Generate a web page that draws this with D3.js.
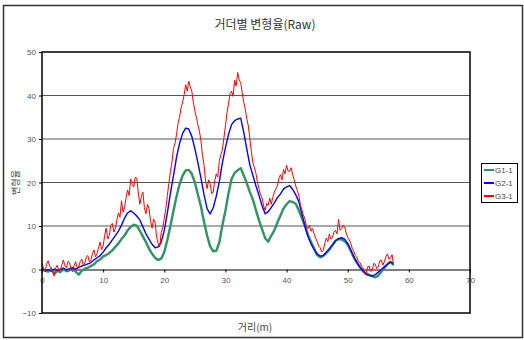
<!DOCTYPE html>
<html>
<head>
<meta charset="utf-8">
<script src="https://cdn.jsdelivr.net/npm/d3@7/dist/d3.min.js"></script>
<style>
  html, body { margin: 0; padding: 0; background: #fff; }
  svg { display: block; }
  text { font-family: "Liberation Sans", Arial, "Noto Sans CJK KR", sans-serif; }
  .kr { font-family: "Noto Sans CJK KR", "Liberation Sans", sans-serif; }
</style>
</head>
<body>
<svg id="chart" width="524" height="340"></svg>
<script>
const seriesNames = ["G1-1", "G2-1", "G3-1"];
const seriesColors = ["#2f9462", "#0000ff", "#ff0000"];
// Sample spacing (m) of each series, all starting at 0 m
const seriesSteps = [0.5, 0.5, 0.25];

// G1-1 deformation rate, one sample every 0.5 m
const g1 = [
  0.3,-0.2,-0.5,0.2,-1.0,-0.3,-0.6,0.1,-0.4,-0.2,0.3,-0.5,-1.2,-0.3,0.2,0.4,
  0.8,1.2,1.9,2.3,3.0,3.3,3.8,4.4,5.2,6.0,7.0,7.8,9.0,9.8,10.3,10.1,
  8.9,7.6,6.3,4.8,3.6,2.7,2.2,2.5,4.0,6.8,10.0,13.5,16.8,19.6,21.6,22.8,
  22.9,22.0,20.0,17.2,14.5,11.0,7.8,5.3,4.2,4.3,6.2,10.2,13.5,17.5,20.8,22.2,
  22.8,23.3,21.6,19.8,17.8,16.0,13.6,11.3,9.2,7.2,6.4,7.8,9.0,10.8,12.4,14.0,
  15.0,15.7,15.5,15.1,13.6,11.8,10.0,8.0,6.3,4.9,3.3,2.8,3.1,3.8,4.5,5.6,
  6.6,7.0,6.9,6.5,5.7,4.3,2.8,1.6,0.6,-0.4,-0.9,-1.3,-1.5,-1.8,-1.4,-0.5,
  0.4,1.2,1.8,1.0
];
// G2-1 deformation rate, one sample every 0.5 m
const g2 = [
  0.2,-0.3,0.0,-0.4,0.1,-0.2,0.0,0.3,-0.1,0.2,0.4,0.1,0.5,0.8,1.0,1.3,
  1.6,2.2,2.7,3.2,4.0,5.0,5.8,6.8,7.8,8.8,10.2,11.8,13.0,13.5,13.0,12.3,
  11.4,9.8,8.2,7.0,5.8,5.0,5.2,6.3,9.0,13.0,17.5,21.5,25.8,29.0,31.3,32.5,
  32.3,30.6,27.8,24.5,21.0,17.2,14.0,12.8,14.2,16.8,20.2,24.5,28.0,31.0,33.3,34.2,
  34.6,34.8,31.5,27.6,24.0,21.6,19.2,17.0,14.6,12.8,13.3,14.3,15.3,16.5,17.4,18.5,
  19.0,19.3,18.4,17.2,15.6,12.8,10.0,7.6,5.9,4.6,3.6,3.1,3.2,4.0,4.8,5.6,
  6.6,7.1,7.3,7.0,6.0,4.5,2.9,1.6,0.5,-0.3,-1.1,-1.3,-1.5,-1.2,-0.6,0.0,
  0.6,1.2,1.7,1.4
];
// G3-1 deformation rate, one sample every 0.25 m (four per metre)
const g3 = [
  1.5,0.2,-0.5,1.2,  2.0,0.8,0.3,-0.6,  -1.5,0.4,1.0,-0.4,  -0.2,1.1,2.2,0.9,
  0.4,1.9,1.6,0.2,  -0.5,0.9,1.8,0.5,  0.6,1.8,2.4,1.0,  1.5,2.9,3.2,1.8,
  2.2,3.6,4.5,2.9,  3.6,5.1,6.3,4.6,  5.4,7.8,9.5,7.0,  7.8,10.2,10.6,8.6,
  9.5,11.4,13.0,12.0,  15.8,13.2,14.2,16.5,  18.3,17.0,20.8,19.6,  19.0,21.2,21.0,17.6,
  15.0,16.8,17.8,14.2,  12.8,15.0,14.0,11.2,  9.5,11.6,10.8,7.4,  6.0,5.2,8.5,9.6,
  11.8,14.0,17.0,19.8,  22.5,24.6,27.8,29.0,  31.0,33.6,35.0,37.2,  38.5,40.2,42.5,41.0,
  43.3,42.0,41.0,38.4,  36.5,35.0,33.2,31.8,  29.5,26.2,24.0,20.4,  18.6,20.6,19.8,17.4,
  17.8,20.4,22.0,21.2,  25.0,26.4,27.5,30.2,  33.0,36.0,38.0,40.4,  41.0,39.8,43.5,42.2,
  45.3,43.6,43.0,40.6,  38.4,36.8,34.6,33.0,  30.0,27.0,24.5,23.4,  22.0,20.0,18.5,17.2,
  16.4,14.6,13.6,15.2,  14.8,16.4,15.0,16.6,  17.8,18.6,19.2,21.0,  21.8,20.6,23.0,22.0,
  24.0,22.6,22.6,23.4,  21.8,20.6,19.2,18.2,  17.0,15.0,13.8,12.6,  11.6,10.0,9.4,10.2,
  8.8,9.4,8.2,7.2,  6.4,5.4,5.0,4.0,  4.4,6.0,7.2,6.4,  8.2,7.0,7.4,8.6,
  9.0,8.2,11.6,9.0,  9.4,10.2,9.8,8.4,  7.4,6.8,6.0,4.8,  4.2,3.2,2.8,1.8,
  1.6,0.8,0.4,-0.6,  -0.9,0.6,0.8,-0.4,  -0.2,1.4,1.2,0.2,  0.6,2.0,2.2,1.0,
  1.8,3.0,3.6,2.4,  2.6,3.4,1.0
];
const seriesValues = [g1, g2, g3];

const xTicks = [0, 10, 20, 30, 40, 50, 60, 70];
const yTicks = [-10, 0, 10, 20, 30, 40, 50];
const gridValues = [10, 20, 30, 40];

const titleText = "거더별 변형율(Raw)";
const xLabel = "거리(m)";
const yLabel = "변형율";

const svg = d3.select("#chart");

// Outer chart frame
svg.append("rect")
  .attr("x", 3.5).attr("y", 5.5).attr("width", 519).attr("height", 332)
  .attr("fill", "#fff").attr("stroke", "#333").attr("stroke-width", 1.5);

const plot = { left: 42, right: 470, top: 52, bottom: 313 };
const x = d3.scaleLinear().domain([0, 70]).range([plot.left, plot.right]);
const y = d3.scaleLinear().domain([-10, 50]).range([plot.bottom, plot.top]);

// Horizontal gridlines
svg.append("g").selectAll("line").data(gridValues).join("line")
  .attr("x1", plot.left).attr("x2", plot.right)
  .attr("y1", d => y(d)).attr("y2", d => y(d))
  .attr("stroke", "#555").attr("stroke-width", 1);

// Y axis with tick labels
const yAxis = svg.append("g")
  .attr("transform", `translate(${plot.left},0)`)
  .call(d3.axisLeft(y).tickValues(yTicks).tickSize(3).tickPadding(3).tickFormat(d3.format("d")));
yAxis.select(".domain").remove();
yAxis.selectAll("line").attr("stroke", "#000");
yAxis.selectAll("text").attr("font-size", 8).attr("fill", "#555")
  .attr("font-family", "Liberation Sans, Arial, sans-serif");

// Zero line acts as the X axis
const xAxis = svg.append("g")
  .attr("transform", `translate(0,${y(0)})`)
  .call(d3.axisBottom(x).tickValues(xTicks).tickSize(3).tickPadding(5).tickFormat(d3.format("d")));
xAxis.select(".domain").attr("stroke", "#000").attr("stroke-width", 1);
xAxis.selectAll("line").attr("stroke", "#000");
xAxis.selectAll("text").attr("font-size", 8).attr("fill", "#555")
  .attr("font-family", "Liberation Sans, Arial, sans-serif");

// Series lines
const widths = [2.4, 1.4, 1];
svg.append("g").selectAll("path").data(seriesValues).join("path")
  .attr("d", (vals, s) => d3.line()
    .x((d, i) => x(i * seriesSteps[s]))
    .y(d => y(d))(vals))
  .attr("fill", "none")
  .attr("stroke", (d, i) => seriesColors[i])
  .attr("stroke-width", (d, i) => widths[i])
  .attr("stroke-linejoin", "round");

// Plot border
svg.append("rect")
  .attr("x", plot.left).attr("y", plot.top)
  .attr("width", plot.right - plot.left).attr("height", plot.bottom - plot.top)
  .attr("fill", "none").attr("stroke", "#000").attr("stroke-width", 1.5);

// Title
svg.append("text").attr("class", "kr")
  .attr("x", 265).attr("y", 29).attr("text-anchor", "middle")
  .attr("font-size", 12).attr("fill", "#333").text(titleText);

// Axis titles
svg.append("text").attr("class", "kr")
  .attr("x", 255).attr("y", 331).attr("text-anchor", "middle")
  .attr("font-size", 10).attr("fill", "#444").text(xLabel);
svg.append("text").attr("class", "kr")
  .attr("transform", `translate(19,${(plot.top + plot.bottom) / 2}) rotate(-90)`)
  .attr("text-anchor", "middle")
  .attr("font-size", 9).attr("fill", "#444").text(yLabel);

// Legend
const legend = svg.append("g").attr("transform", "translate(481,163)");
legend.append("rect").attr("x", 0.5).attr("y", 0.5).attr("width", 36).attr("height", 39)
  .attr("fill", "#fff").attr("stroke", "#000").attr("stroke-width", 1);
const item = legend.selectAll("g.item").data(seriesNames).join("g")
  .attr("class", "item")
  .attr("transform", (d, i) => `translate(0,${7 + i * 13})`);
item.append("line").attr("x1", 3).attr("x2", 13).attr("y1", 0).attr("y2", 0)
  .attr("stroke", (d, i) => seriesColors[i]).attr("stroke-width", 2);
item.append("text").attr("x", 14).attr("y", 3)
  .attr("font-size", 8).attr("fill", "#444").text(d => d);
</script>
</body>
</html>
